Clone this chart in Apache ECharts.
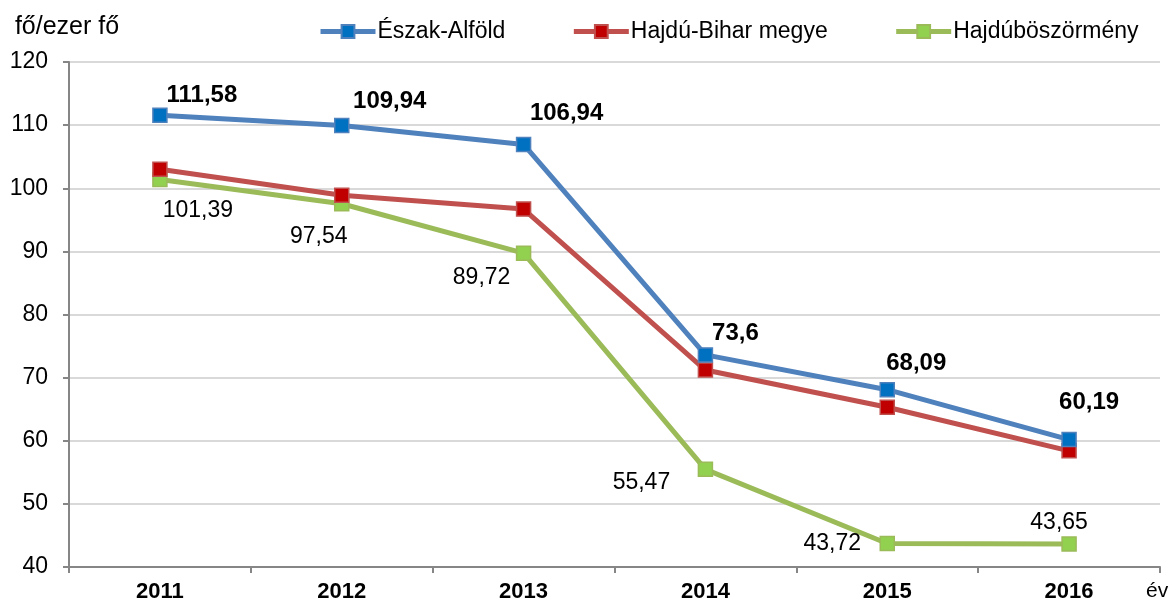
<!DOCTYPE html>
<html>
<head>
<meta charset="utf-8">
<script src="https://cdn.jsdelivr.net/npm/echarts@6/dist/echarts.min.js"></script>
<style>
  html, body { margin: 0; padding: 0; background: #fff; }
  #chart { width: 1173px; height: 606px; }
</style>
</head>
<body>
<div id="chart"></div>
<script>
  const years = ['2011', '2012', '2013', '2014', '2015', '2016']
  const eszakAlfold = [111.58, 109.94, 106.94, 73.6, 68.09, 60.19]
  const hajduBihar = [103.0, 98.9, 96.7, 71.2, 65.3, 58.4]
  const hajduboszormeny = [101.39, 97.54, 89.72, 55.47, 43.72, 43.65]
  const yTicks = { min: 40, max: 120, step: 10 }

  // label placement, tuned by eye
  const blueOffsets = [[42, -20], [48, -24], [43, -31], [30, -22], [29, -26], [20, -37]]
  const greenOffsets = [[38, 31], [-23, 33], [-42, 25], [-64, 13], [-55, 0], [-10, -21]]

  const fmt = (v) => String(v).replace('.', ',')

  const withLabels = (values, offsets) =>
    values.map((v, i) => ({ value: v, label: { offset: offsets[i] } }))

  const font = 'Liberation Sans, Arial, sans-serif'

  const chart = echarts.init(document.getElementById('chart'))
  chart.setOption({
    animation: false,
    textStyle: { fontFamily: font },
    grid: { left: 69, right: 13, top: 62, bottom: 39 },
    legend: {
      top: 15,
      left: 313,
      itemGap: 66,
      itemWidth: 55,
      itemHeight: 16,
      lineStyle: { width: 5 },
      textStyle: { fontSize: 23, color: '#000', fontFamily: font, padding: [0, 0, 0, -3] },
      data: ['Észak-Alföld', 'Hajdú-Bihar megye', 'Hajdúböszörmény']
    },
    graphic: [
      {
        type: 'text',
        left: 1146,
        top: 581,
        style: { text: 'év', fontSize: 21, fill: '#000', fontFamily: font }
      }
    ],
    xAxis: {
      type: 'category',
      data: years,
      boundaryGap: true,
      axisLine: { lineStyle: { color: '#868686', width: 2 } },
      axisTick: { show: true, length: 6, lineStyle: { color: '#868686', width: 2 } },
      axisLabel: { fontSize: 22, fontWeight: 'bold', color: '#000', margin: 14 }
    },
    yAxis: {
      type: 'value',
      min: yTicks.min,
      max: yTicks.max,
      interval: yTicks.step,
      name: 'fő/ezer fő',
      nameLocation: 'end',
      nameGap: 22,
      nameTextStyle: { fontSize: 25, color: '#000', align: 'center', padding: [0, 4, 0, 0] },
      axisLine: { show: true, lineStyle: { color: '#868686', width: 2 } },
      axisTick: { show: true, length: 6, lineStyle: { color: '#868686', width: 2 } },
      axisLabel: { fontSize: 23, color: '#000', margin: 21 },
      splitLine: { lineStyle: { color: '#D9D9D9', width: 2 } }
    },
    series: [
      {
        name: 'Hajdúböszörmény',
        type: 'line',
        data: withLabels(hajduboszormeny, greenOffsets),
        z: 2,
        symbol: 'rect',
        symbolSize: 14,
        lineStyle: { color: '#9BBB59', width: 5 },
        itemStyle: { color: '#92D050', borderColor: '#9BBB59', borderWidth: 1.5 },
        label: {
          show: true,
          position: 'inside',
          formatter: (p) => fmt(p.value),
          fontSize: 23,
          color: '#000'
        }
      },
      {
        name: 'Hajdú-Bihar megye',
        type: 'line',
        data: hajduBihar,
        z: 3,
        symbol: 'rect',
        symbolSize: 14,
        lineStyle: { color: '#C0504D', width: 5 },
        itemStyle: { color: '#C00000', borderColor: '#C0504D', borderWidth: 1.5 }
      },
      {
        name: 'Észak-Alföld',
        type: 'line',
        data: withLabels(eszakAlfold, blueOffsets),
        z: 4,
        symbol: 'rect',
        symbolSize: 14,
        lineStyle: { color: '#4F81BD', width: 5 },
        itemStyle: { color: '#0070C0', borderColor: '#4F81BD', borderWidth: 1.5 },
        label: {
          show: true,
          position: 'inside',
          formatter: (p) => fmt(p.value),
          fontSize: 24,
          fontWeight: 'bold',
          color: '#000'
        }
      }
    ]
  })
</script>
</body>
</html>
